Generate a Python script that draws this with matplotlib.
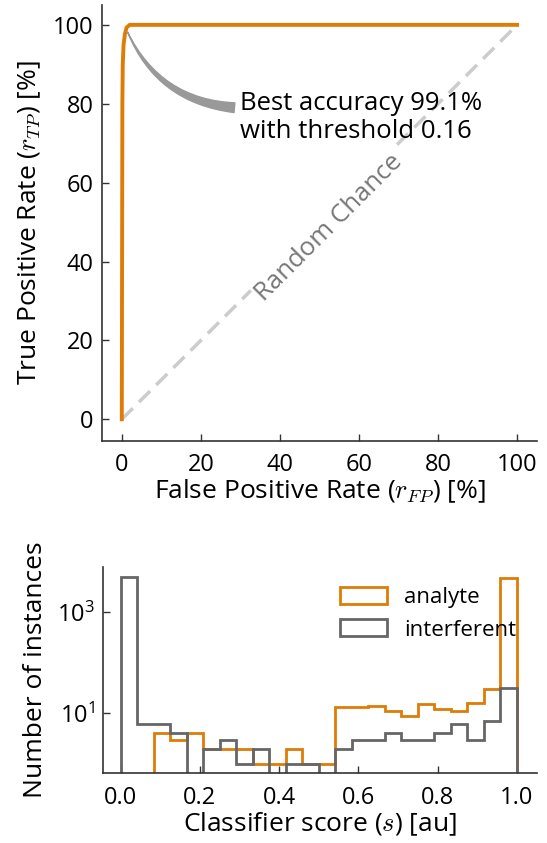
import numpy as np
import matplotlib
matplotlib.use('Agg')
import matplotlib.pyplot as plt

plt.rcParams['font.family'] = ['Open Sans', 'DejaVu Sans']
plt.rcParams['mathtext.fontset'] = 'cm'

# ROC curve (percent)
roc_fpr = [0, 0.15, 0.25, 0.45, 0.8, 1.2, 2.0, 100]
roc_tpr = [0, 80, 90, 95, 97.7, 99.3, 100, 100]
best_fpr, best_tpr = 1.2, 98.8

# histogram of classifier scores, 24 bins on [0, 1]
bin_edges = np.linspace(0, 1, 25)
analyte_counts = [0, 0, 4, 3, 4, 2, 2, 2, 1, 1, 2, 1,
                  1, 13, 13, 14, 11, 9, 15, 12, 11, 16, 30, 4650]
interferent_counts = [5000, 6, 6, 4, 0, 2, 3, 1, 2, 0, 1, 1,
                      0, 2, 3, 3, 4, 3, 3, 4, 6, 3, 7, 32]

orange = '#dd7c06'
gray = '#666666'
spine_col = '#333333'

fig = plt.figure(figsize=(5.47, 8.43), dpi=100)

# --- ROC ---
ax = fig.add_axes([0.1865, 0.4769, 0.795, 0.517])
ax.plot([0, 100], [0, 100], ls=(0, (4.5, 2.5)), color='#cccccc', lw=2.5, zorder=1)
ax.plot(roc_fpr, roc_tpr, color=orange, lw=2.8, zorder=3)
ax.text(52.5, 48.5, 'Random Chance', rotation=45, rotation_mode='anchor',
        ha='center', va='center', fontsize=18.5, color='#777777',
        bbox=dict(facecolor='white', edgecolor='none', pad=1), zorder=2)
ax.text(30, 76.5, 'Best accuracy 99.1%\nwith threshold 0.16',
        fontsize=18.5, va='center', ha='left')
ax.annotate('', xy=(best_fpr, best_tpr), xytext=(28.5, 79),
            arrowprops=dict(arrowstyle='wedge,tail_width=0.7,shrink_factor=0.5',
                            color='#999999', connectionstyle='arc3,rad=-0.3',
                            shrinkA=0, shrinkB=2))
ax.set_xlim(-5, 105)
ax.set_ylim(-5.5, 105)
ax.set_xticks([0, 20, 40, 60, 80, 100])
ax.set_yticks([0, 20, 40, 60, 80, 100])
ax.set_xlabel(r'False Positive Rate ($r_{FP}$) [%]', fontsize=19, labelpad=0)
ax.set_ylabel(r'True Positive Rate ($r_{TP}$) [%]', fontsize=19, labelpad=7)

# --- histogram ---
ax2 = fig.add_axes([0.188, 0.083, 0.793, 0.2444])
centers = (bin_edges[:-1] + bin_edges[1:]) / 2
ax2.hist(centers, bins=bin_edges, weights=analyte_counts, histtype='step',
         color=orange, lw=2, label='analyte')
ax2.hist(centers, bins=bin_edges, weights=interferent_counts, histtype='step',
         color=gray, lw=2, label='interferent')
ax2.set_yscale('log', nonpositive='clip')
ax2.set_ylim(0.66, 7700)
ax2.set_xlim(-0.045, 1.05)
ax2.set_yticks([10, 1000])
ax2.set_yticklabels([r'$\mathregular{10^1}$', r'$\mathregular{10^3}$'])
ax2.minorticks_off()
ax2.set_xticks([0, 0.2, 0.4, 0.6, 0.8, 1.0])
ax2.set_xlabel(r'Classifier score ($s$) [au]', fontsize=19, labelpad=1)
ax2.set_ylabel('Number of instances', fontsize=19, labelpad=6)
ax2.legend(loc='upper right', frameon=False, fontsize=16, handlelength=2.1,
           handleheight=0.8, bbox_to_anchor=(1.0, 1.0))

for a in (ax, ax2):
    a.spines['top'].set_visible(False)
    a.spines['right'].set_visible(False)
    for s in ('left', 'bottom'):
        a.spines[s].set_color(spine_col)
        a.spines[s].set_linewidth(1.2)
    a.tick_params(direction='in', labelsize=17, color=spine_col, length=5, width=1)
    a.tick_params(axis='x', pad=9)
    a.tick_params(axis='y', pad=6)

fig.savefig('out.png', dpi=100)
